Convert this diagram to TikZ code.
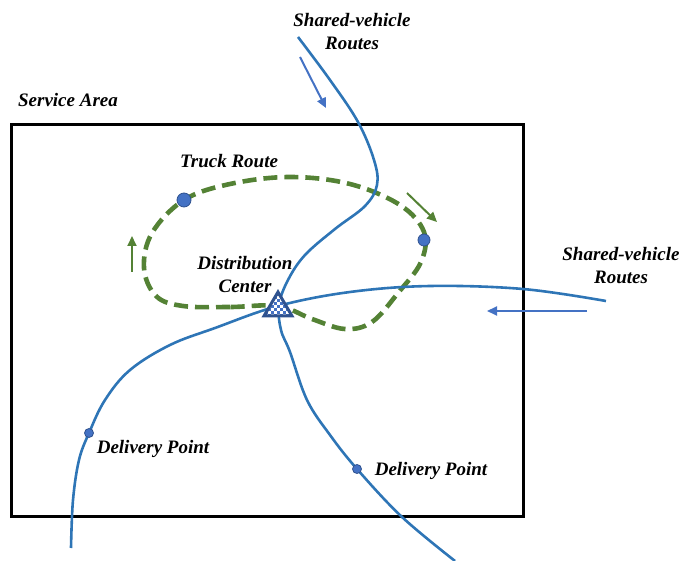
\documentclass[tikz,border=0pt]{standalone}
\usepackage{fontspec}
\setmainfont{Liberation Serif}
\usetikzlibrary{arrows.meta}
\definecolor{routeblue}{HTML}{2E75B6}
\definecolor{arrblue}{HTML}{4472C4}
\definecolor{dotedge}{HTML}{2F528F}
\definecolor{truckgreen}{HTML}{548235}
\tikzset{
  lbl/.style={font=\fontsize{19}{23}\selectfont\bfseries\itshape, align=center, inner sep=0pt},
  route/.style={draw=routeblue, line width=2.6pt},
  truck/.style={draw=truckgreen, line width=4.6pt, dash pattern=on 14pt off 7pt},
  barrow/.style={draw=arrblue, line width=2pt, -{Triangle[length=10pt,width=9pt]}},
  garrow/.style={draw=truckgreen, line width=2pt, -{Triangle[length=10pt,width=9pt]}},
  dpt/.style={circle, fill=arrblue, draw=dotedge, line width=0.8pt, inner sep=0pt},
}
\begin{document}
\begin{tikzpicture}[x=1pt,y=-1pt]
\useasboundingbox (0,0) rectangle (683,561);
% service area
\draw[line width=3pt] (11,125) rectangle (523,516);
\node[lbl] (sa) at (68,100) {Service Area};
% truck route loop
\draw[truck] plot[smooth cycle, tension=0.6] coordinates {(278,306) (230,307) (183,306) (156,296) (144,268) (152,233) (184,200) (230,184) (290,177) (350,184) (400,205) (424,232) (421,262) (398,293) (372,322) (345,329) (312,319)};
% shared vehicle routes
\draw[route] plot[smooth, tension=0.6] coordinates {(71,548) (73,500) (79,460) (89,433) (105,400) (130,370) (170,345) (215,328) (278,306) (350,292) (430,286) (523,289) (606,301)};
\draw[route] plot[smooth, tension=0.6] coordinates {(298,37) (330,80) (358,122) (374,160) (377,185) (365,206) (335,229) (305,255) (288,280) (279,305) (281,330) (290,352) (307,400) (330,435) (357,469) (402,517) (455,561)};
% distribution center (checkered triangle)
\coordinate (dc) at (278,306);
\begin{scope}
  \clip (264,316) -- (278,292) -- (292,316) -- cycle;
  \fill[white] (262,290) rectangle (294,318);
  \foreach \i in {0,...,10} {
    \foreach \j in {0,...,9} {
      \pgfmathtruncatemacro{\chk}{mod(\i+\j,2)}
      \ifnum\chk=0
        \fill[arrblue] (262+3*\i,290+3*\j) rectangle ++(3,3);
      \fi
    }
  }
\end{scope}
\draw[draw=dotedge, line width=3pt, line join=miter] (264,316) -- (278,292) -- (292,316) -- cycle;
% delivery points
\node[dpt, minimum size=14pt] (d1) at (184,200) {};
\node[dpt, minimum size=12pt] (d2) at (424,240) {};
\node[dpt, minimum size=9pt] (d3) at (89,433) {};
\node[dpt, minimum size=9pt] (d4) at (357,469) {};
% arrows
\coordinate (ba1s) at (300,57); \coordinate (ba1e) at (326,108);
\draw[barrow] (ba1s) -- (ba1e);
\coordinate (ba2s) at (587,311); \coordinate (ba2e) at (487,311);
\draw[barrow] (ba2s) -- (ba2e);
\coordinate (ga1s) at (132,272); \coordinate (ga1e) at (132,236);
\draw[garrow] (ga1s) -- (ga1e);
\coordinate (ga2s) at (407,193); \coordinate (ga2e) at (437,222);
\draw[garrow] (ga2s) -- (ga2e);
% labels
\node[lbl] (svtop) at (352,32) {Shared-vehicle\\Routes};
\node[lbl] (svright) at (621,266) {Shared-vehicle\\Routes};
\node[lbl] (tr) at (229,161) {Truck Route};
\node[lbl] (dclbl) at (245,275) {Distribution\\Center};
\node[lbl] (dp1) at (153,449) {Delivery Point};
\node[lbl] (dp2) at (431,471) {Delivery Point};
\end{tikzpicture}
\end{document}
